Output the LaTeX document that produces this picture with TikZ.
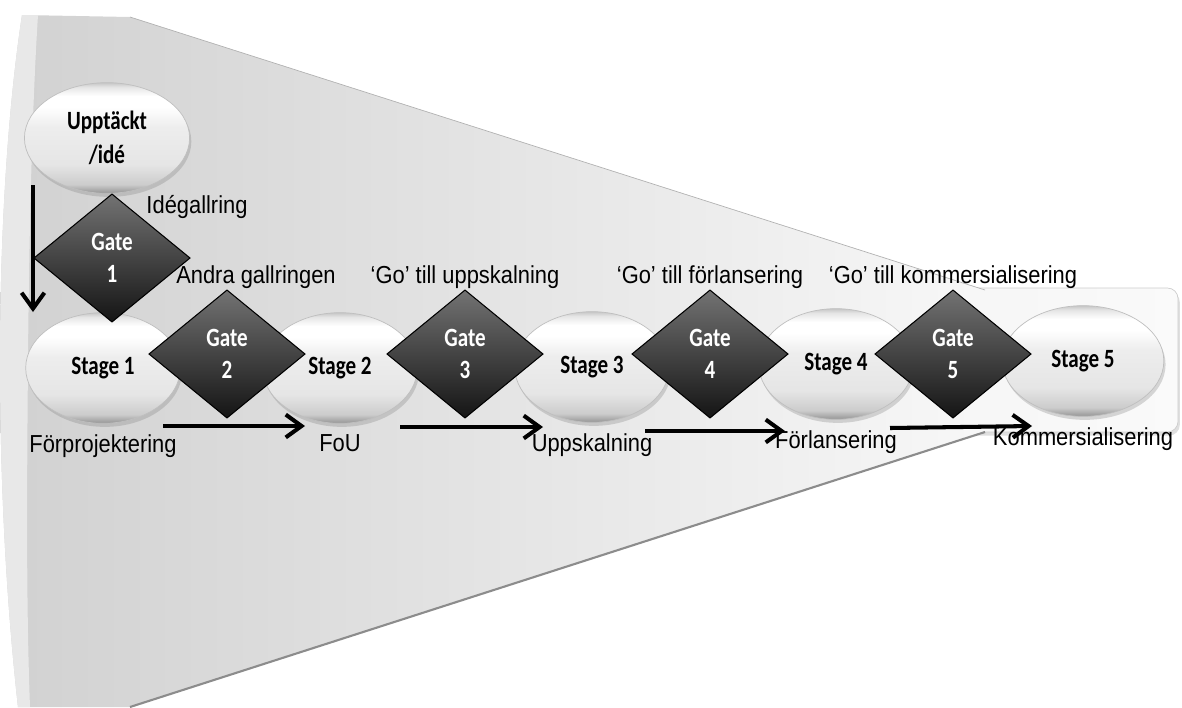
\documentclass[tikz,border=0pt]{standalone}
\usepackage{fontspec}
\usepackage{tikz}
\usetikzlibrary{positioning, shapes.geometric, arrows.meta, shadows}
\newfontfamily\lblfont[FakeStretch=0.89]{Liberation Sans}
\newfontfamily\boxfont[FakeStretch=0.8]{Carlito}
\pgfdeclareverticalshading{stageshade}{100bp}{color(0bp)=(black!42); color(25bp)=(black!42); color(29bp)=(black!20); color(38bp)=(black!10); color(55bp)=(black!7); color(64bp)=(white); color(69bp)=(white); color(73bp)=(black!10); color(75bp)=(black!22); color(100bp)=(black!22)}

\begin{document}
\begin{tikzpicture}[x=0.02cm, y=-0.02cm,
    stage/.style={ellipse, draw=black!25, line width=0.4pt, shading=stageshade,
        minimum width=88pt, minimum height=63pt, inner sep=0pt, align=center,
        font=\boxfont\bfseries\fontsize{15}{19}\selectfont,
        drop shadow={shadow xshift=1pt, shadow yshift=-2pt, opacity=0.3}},
    gate/.style={diamond, draw=black, line width=0.6pt, top color=black!55, bottom color=black!92,
        minimum width=89pt, minimum height=73pt, inner sep=0pt, text=white, align=center,
        font=\boxfont\bfseries\fontsize{15}{18.5}\selectfont},
    lbl/.style={inner sep=0pt, font=\lblfont\fontsize{14}{16}\selectfont},
    flow/.style={line width=2.3pt, -{Straight Barb[length=9pt, width=13pt]}}]
    \useasboundingbox (0,0) rectangle (1182,707);
    \shade[draw=black!20, left color=black!4, right color=black!2, rounded corners=6pt,
        drop shadow={shadow xshift=1pt, shadow yshift=-2pt, opacity=0.25}] (880,288) rectangle (1178,432);
    \shade[left color=black!18, right color=black!3] (22,15) -- (130,17) -- (985,290) -- (985,432)
        -- (130,707) -- (18,707) .. controls (6,600) and (0,480) .. (0,360)
        .. controls (0,250) and (6,120) .. (22,15) -- cycle;
    \fill[black!9] (22,15) .. controls (6,120) and (0,250) .. (0,360)
        .. controls (0,480) and (6,600) .. (18,707) -- (30,707)
        .. controls (26,600) and (27,480) .. (28,360)
        .. controls (29,240) and (32,110) .. (38,15) -- cycle;
    \draw[black!30, line width=0.4pt] (130,17) -- (985,290);
    \draw[black!45, line width=1.2pt] (130,707) -- (985,432);

    \node[stage, minimum width=94pt] (idea) at (107,138) {Upptäckt\\/idé};
    \node[stage] (s1) at (103,368) {Stage 1};
    \node[stage] (s2) at (340,368) {Stage 2};
    \node[stage] (s3) at (592,367) {Stage 3};
    \node[stage] (s4) at (836,364) {Stage 4};
    \node[stage, minimum width=92pt] (s5) at (1083,361) {Stage 5};

    \node[gate] (g1) at (112,258) {Gate\\1};
    \node[gate] (g2) at (227,354) {Gate\\2};
    \node[gate] (g3) at (465,354) {Gate\\3};
    \node[gate] (g4) at (710,354) {Gate\\4};
    \node[gate] (g5) at (953,354) {Gate\\5};

    \node[lbl] (t1) at (197,207) {Idégallring};
    \node[lbl] (t2) at (256,277) {Andra gallringen};
    \node[lbl, above=0pt of g3] (t3) {‘Go’ till uppskalning};
    \node[lbl, above=0pt of g4] (t4) {‘Go’ till förlansering};
    \node[lbl, above=0pt of g5] (t5) {‘Go’ till kommersialisering};

    \node[lbl, below=6pt of s1] (b1) {Förprojektering};
    \node[lbl, below=6pt of s2] (b2) {FoU};
    \node[lbl, below=6pt of s3] (b3) {Uppskalning};
    \node[lbl, below=6pt of s4] (b4) {Förlansering};
    \node[lbl, below=6pt of s5] (b5) {Kommersialisering};

    \coordinate (v0) at (33,185);
    \coordinate (v1) at (33,312);
    \coordinate (a1) at (163,426);
    \coordinate (a2) at (305,426);
    \coordinate (a3) at (400,427);
    \coordinate (a4) at (543,427);
    \coordinate (a5) at (645,431);
    \coordinate (a6) at (785,431);
    \coordinate (a7) at (890,428);
    \coordinate (a8) at (1032,426);
    \draw[flow] (v0) -- (v1);
    \draw[flow] (a1) -- (a2);
    \draw[flow] (a3) -- (a4);
    \draw[flow] (a5) -- (a6);
    \draw[flow] (a7) -- (a8);
\end{tikzpicture}
\end{document}
